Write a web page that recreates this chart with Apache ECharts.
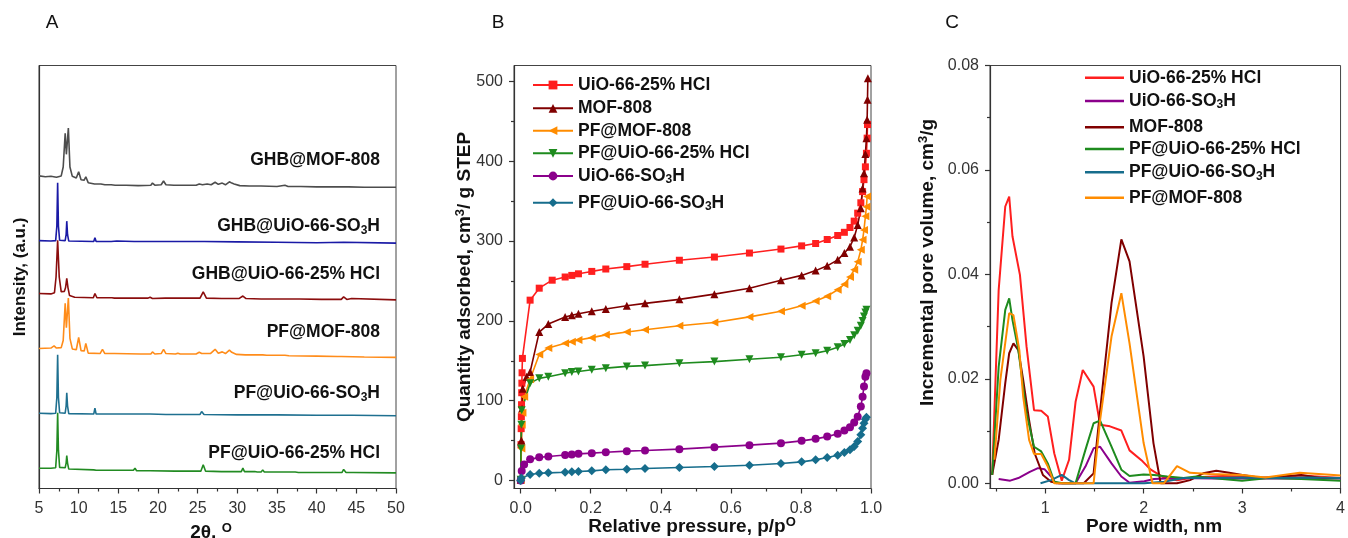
<!DOCTYPE html>
<html><head><meta charset="utf-8">
<script src="https://cdn.jsdelivr.net/npm/echarts@6/dist/echarts.min.js"></script>
<style>html,body{margin:0;padding:0;background:#fff}#c{width:1348px;height:538px}</style>
</head><body><div id="c"></div><script>
// ---------- Panel A: XRD patterns (2θ, offset intensity in arbitrary units) ----------
const A_GHB_MOF808 = [[5,73.9],[5.8,73.7],[6.5,73.8],[7.2,73.6],[7.8,73.9],[8.05,76],[8.3,84.0],[8.45,79],[8.7,85.2],[8.9,76],[9.2,73.8],[9.7,73.4],[10.0,74.9],[10.3,73.0],[10.7,72.9],[10.9,73.7],[11.2,72.3],[12,72.0],[12.8,72.0],[13.0,72.3],[13.3,71.8],[14.1,71.8],[14.3,72.0],[14.6,71.7],[16,71.7],[17.5,71.6],[19.1,71.7],[19.3,72.2],[19.6,71.7],[20.4,71.8],[20.7,72.7],[21.0,71.8],[22,71.7],[23.5,71.7],[24.8,71.7],[25.2,72.0],[25.6,71.8],[26.2,72.0],[26.7,71.8],[27.2,72.4],[27.6,71.9],[28.1,72.2],[28.5,71.8],[29.0,72.5],[29.3,72.2],[29.6,72.0],[30.3,71.6],[31.5,71.5],[33,71.5],[35,71.4],[36,71.7],[36.4,71.4],[38,71.4],[40,71.3],[42,71.3],[44,71.3],[46,71.2],[48,71.2],[50,71.2]];
const A_GHB_SO3H = [[5,58.6],[6.5,58.5],[7.1,58.6],[7.25,62],[7.35,72.3],[7.45,62],[7.6,58.7],[8.3,58.6],[8.42,60],[8.5,63.2],[8.6,60],[8.75,58.5],[11.9,58.4],[12.05,59.3],[12.2,58.4],[14.1,58.4],[14.2,58.8],[14.35,58.4],[14.8,58.5],[17,58.4],[19,58.4],[21,58.4],[25.3,58.4],[25.5,58.8],[25.8,58.4],[30,58.3],[35,58.2],[40,58.1],[43.4,58.2],[43.6,58.0],[50,58.0]];
const A_GHB_HCL = [[5,46.1],[6.5,46.0],[6.95,46.3],[7.15,50],[7.35,58.7],[7.55,50],[7.8,46.5],[8.2,46.6],[8.35,47.5],[8.5,49.7],[8.65,47.5],[8.85,45.6],[9.5,45.2],[11.85,45.1],[12.05,46.1],[12.3,45.1],[14.2,45.1],[14.35,45.4],[14.5,45.0],[16.9,45.0],[17.05,45.3],[17.3,45.0],[18.7,45.0],[19.0,45.2],[19.3,44.9],[20.9,45.0],[21.0,45.2],[21.2,45.0],[22.1,45.0],[22.3,45.4],[22.6,45.0],[25.3,45.0],[25.7,46.5],[26.1,45.0],[28.0,44.9],[28.2,45.1],[28.5,44.9],[29.7,44.9],[29.85,45.1],[30.2,44.9],[30.7,45.5],[31.1,44.9],[33.0,44.8],[33.2,45.2],[33.5,44.8],[35.4,44.8],[35.6,45.2],[35.9,44.8],[37.3,44.8],[37.5,45.0],[37.8,44.8],[40.6,44.7],[40.8,45.0],[41.0,44.7],[43.1,44.7],[43.4,45.3],[43.8,44.7],[44.4,44.9],[44.6,44.6],[50,44.6]];
const A_PF_MOF808 = [[5,33.1],[6.5,33.2],[6.9,33.7],[7.2,33.2],[7.8,33.3],[8.05,35],[8.3,43.8],[8.45,38],[8.7,45.0],[8.9,35.5],[9.2,33.0],[9.7,32.8],[10.0,35.7],[10.3,32.6],[10.7,32.5],[10.9,34.3],[11.2,32.0],[12.7,31.9],[13.0,32.9],[13.3,31.9],[14.0,31.9],[14.2,32.3],[14.5,31.9],[17.8,31.8],[18.0,32.0],[18.3,31.8],[19.1,31.8],[19.3,32.3],[19.6,31.8],[20.4,31.9],[20.7,32.9],[21.0,31.9],[22.2,31.8],[22.5,32.0],[22.8,31.8],[24.8,31.8],[25.2,32.2],[25.5,31.9],[26.0,31.9],[26.2,32.2],[26.6,31.9],[27.2,32.9],[27.6,32.0],[28.1,32.3],[28.5,31.9],[29.0,32.7],[29.3,32.2],[29.5,32.5],[29.9,31.7],[31,31.6],[33.2,31.6],[33.4,31.8],[33.7,31.5],[36,31.5],[36.2,31.7],[36.5,31.4],[40,31.3],[42.6,31.2],[42.8,31.5],[43.1,31.2],[46,31.1],[50,31.0]];
const A_PF_SO3H = [[5,17.8],[6.5,17.7],[7.1,17.8],[7.25,21.5],[7.35,31.6],[7.45,21.5],[7.6,17.9],[8.3,17.8],[8.42,19.5],[8.5,22.6],[8.6,19.5],[8.75,17.7],[11.9,17.6],[12.05,19.0],[12.2,17.6],[14.1,17.6],[14.2,18.0],[14.35,17.6],[14.7,17.6],[14.8,17.9],[14.95,17.6],[17,17.6],[19,17.6],[21,17.5],[25.3,17.5],[25.5,18.2],[25.8,17.5],[30,17.4],[35,17.4],[40,17.3],[43.3,17.3],[43.5,17.6],[43.7,17.3],[44.5,17.3],[50,17.2]];
const A_PF_HCL = [[5,4.8],[6.5,4.8],[7.1,4.9],[7.25,9],[7.35,17.9],[7.45,9],[7.6,5.0],[8.3,4.9],[8.42,6],[8.5,7.8],[8.6,6],[8.75,4.6],[11.9,4.4],[12.05,4.8],[12.2,4.3],[14.1,4.3],[14.2,4.5],[14.35,4.3],[14.7,4.3],[14.8,4.6],[14.95,4.3],[16.9,4.3],[17.1,4.8],[17.3,4.2],[18.6,4.2],[18.7,4.5],[18.85,4.2],[19.0,4.2],[19.1,4.5],[19.25,4.2],[22.1,4.1],[22.3,4.5],[22.5,4.1],[25.4,4.1],[25.7,5.6],[26.0,4.1],[28.0,4.0],[28.1,4.3],[28.3,4.0],[29.7,4.0],[29.8,4.3],[30.0,4.0],[30.5,4.0],[30.7,4.8],[30.9,4.0],[32.2,4.0],[32.3,4.2],[32.5,3.9],[33.0,3.9],[33.2,4.4],[33.4,3.9],[35.4,3.9],[35.6,4.3],[35.8,3.9],[37.3,3.9],[37.5,4.3],[37.7,3.8],[39.5,3.8],[39.6,4.0],[39.8,3.8],[40.6,3.8],[40.8,4.2],[41.0,3.8],[43.2,3.8],[43.4,4.5],[43.7,3.8],[44.3,3.8],[44.4,4.0],[44.6,3.8],[50,3.7]];
const A_NAMES = ['GHB@MOF-808','GHB@UiO-66-SO3H','GHB@UiO-66-25% HCl','PF@MOF-808','PF@UiO-66-SO3H','PF@UiO-66-25% HCl'];
const A_TICKS = [5,10,15,20,25,30,35,40,45,50];

// ---------- Panel B: N2 isotherms (p/p0, cm3/g STP) ----------
const B_HCL = [[0,1],[0.001,45],[0.0015,65],[0.002,80],[0.0025,95],[0.003,110],[0.0035,122],[0.004,135],[0.005,153],[0.027,226],[0.053,241],[0.09,251],[0.127,255],[0.146,257],[0.165,259],[0.203,262],[0.243,265],[0.303,268],[0.355,271],[0.453,276],[0.553,280],[0.653,285],[0.743,290],[0.802,294],[0.842,297],[0.875,302],[0.905,307],[0.924,311],[0.94,317],[0.952,325],[0.962,335],[0.971,348],[0.976,362],[0.98,377],[0.984,393],[0.987,410],[0.989,429],[0.99,446]];
const B_MOF808 = [[0,1],[0.002,50],[0.004,90],[0.006,115],[0.017,130],[0.027,136],[0.053,186],[0.079,196],[0.127,205],[0.146,207],[0.165,209],[0.203,212],[0.243,215],[0.303,219],[0.355,222],[0.453,227],[0.553,233.5],[0.653,241],[0.743,251],[0.802,257],[0.842,263],[0.875,269],[0.905,276.5],[0.924,285],[0.94,293],[0.952,304.5],[0.962,320],[0.971,341],[0.976,366],[0.98,385],[0.984,409],[0.987,429],[0.989,452],[0.99,477],[0.991,504]];
const B_PF_MOF808 = [[0,1],[0.002,40],[0.003,70],[0.005,85],[0.01,105],[0.027,127],[0.053,158],[0.079,166],[0.127,172],[0.146,174],[0.165,176],[0.203,179],[0.243,182.5],[0.303,186],[0.355,189],[0.453,194],[0.553,198],[0.653,205],[0.743,212],[0.802,219],[0.842,225],[0.875,231],[0.905,239],[0.924,246],[0.94,255],[0.952,264],[0.962,274],[0.971,289],[0.976,301.6],[0.98,314],[0.984,331],[0.987,343],[0.989,356]];
const B_PF_HCL = [[0,1],[0.001,40],[0.002,70],[0.003,88],[0.027,122],[0.053,128],[0.079,130],[0.127,134.5],[0.146,136],[0.165,136.6],[0.203,138.7],[0.243,140.8],[0.303,143],[0.355,144],[0.453,147],[0.553,149],[0.653,152],[0.743,154.5],[0.802,157.5],[0.842,159.6],[0.875,162.5],[0.905,167],[0.924,171],[0.94,176],[0.952,182],[0.962,187.5],[0.971,194],[0.976,200],[0.98,205.5],[0.984,210.5],[0.987,214]];
const B_SO3H = [[0,0],[0.003,12],[0.01,20],[0.027,26.5],[0.053,29],[0.079,30],[0.127,32],[0.146,32.6],[0.165,33.4],[0.203,34.3],[0.243,35.5],[0.303,36.8],[0.355,37.6],[0.453,39.3],[0.553,41.8],[0.653,44.3],[0.743,46.8],[0.802,49.7],[0.842,52.2],[0.875,55],[0.905,58.5],[0.924,62.7],[0.94,66.8],[0.952,72.7],[0.962,80],[0.971,92.7],[0.976,105],[0.98,117.8],[0.984,130],[0.987,134.5]];
const B_PF_SO3H = [[0,0],[0.002,3],[0.027,7.5],[0.053,9.2],[0.079,9.6],[0.127,10.4],[0.146,10.9],[0.165,11.3],[0.203,12.1],[0.243,13.4],[0.303,14.2],[0.355,15],[0.453,16.3],[0.553,17.5],[0.653,19.2],[0.743,21.3],[0.802,23.4],[0.842,25.9],[0.875,28.8],[0.905,31.7],[0.924,35],[0.94,38.4],[0.952,42.6],[0.962,48.9],[0.971,57.2],[0.976,65.6],[0.98,71.8],[0.984,76.9],[0.987,79.4]];
const B_NAMES = ['UiO-66-25% HCl','MOF-808','PF@MOF-808','PF@UiO-66-25% HCl','UiO-66-SO3H','PF@UiO-66-SO3H'];
const B_XTICKS = [0,0.2,0.4,0.6,0.8,1.0];
const B_XMINOR = [0.1,0.3,0.5,0.7,0.9];
const B_YTICKS = [0,100,200,300,400,500];
const B_YMINOR = [50,150,250,350,450];

// ---------- Panel C: pore size distribution (nm, cm3/g) ----------
const C_HCL = [[0.462,0.0016],[0.528,0.037],[0.595,0.053],[0.635,0.0549],[0.668,0.0473],[0.744,0.0399],[0.811,0.0262],[0.887,0.014],[0.96,0.0139],[1.027,0.0128],[1.093,0.0057],[1.169,0.0005],[1.243,0.0045],[1.309,0.0156],[1.382,0.0217],[1.492,0.0185],[1.558,0.0112],[1.658,0.0109],[1.774,0.0101],[1.857,0.0063],[1.99,0.0042],[2.073,0.0026],[2.206,0.0011],[2.339,0.0006],[2.472,0.001],[2.6,0.0012],[2.8,0.0014],[3.0,0.0013],[3.3,0.001],[3.6,0.0015],[4.0,0.001]];
const C_SO3H = [[0.528,0.0008],[0.645,0.0005],[0.728,0.001],[0.844,0.0022],[0.927,0.0029],[0.993,0.0027],[1.06,0.0013],[1.11,0],[1.309,0],[1.409,0.0032],[1.492,0.0067],[1.558,0.007],[1.674,0.0038],[1.774,0.0013],[1.857,0.0001],[2.007,0.0004],[2.106,0.0008],[2.339,0.001],[2.7,0.0009],[3.0,0.0009],[3.5,0.0009],[4.0,0.0009]];
const C_MOF808 = [[0.462,0.0016],[0.528,0.0083],[0.595,0.0192],[0.635,0.0249],[0.678,0.0268],[0.728,0.0255],[0.777,0.0198],[0.837,0.0121],[0.894,0.0057],[0.977,0.0016],[1.06,0.0003],[1.143,0],[1.392,0],[1.492,0.0019],[1.591,0.0198],[1.674,0.0345],[1.774,0.0467],[1.857,0.0425],[2.0,0.0243],[2.1,0.0077],[2.173,0],[2.339,0],[2.472,0.0006],[2.605,0.0019],[2.738,0.0024],[2.87,0.002],[3.003,0.0016],[3.2,0.001],[3.4,0.0013],[3.6,0.0016],[3.8,0.001],[4.0,0.001]];
const C_PF_HCL = [[0.462,0.0016],[0.528,0.0223],[0.595,0.0332],[0.635,0.0354],[0.668,0.0313],[0.728,0.0255],[0.811,0.0134],[0.887,0.007],[0.96,0.0061],[1.027,0.0038],[1.093,0.0003],[1.176,0],[1.309,0],[1.409,0.0064],[1.492,0.0115],[1.558,0.012],[1.674,0.007],[1.774,0.0026],[1.857,0.0014],[2.0,0.0017],[2.106,0.0016],[2.24,0.0013],[2.405,0.001],[2.538,0.0013],[2.8,0.0008],[3.0,0.0005],[3.27,0.001],[3.6,0.0008],[4.0,0.0005]];
const C_PF_SO3H = [[0.953,0],[1.06,0.0006],[1.169,0.0016],[1.243,0.0006],[1.309,0],[1.674,0],[2.007,0],[2.206,0.0003],[2.405,0.001],[2.671,0.001],[3.0,0.0011],[3.336,0.001],[3.668,0.0011],[4.0,0.001]];
const C_PF_MOF808 = [[0.485,0.0045],[0.545,0.0198],[0.635,0.0326],[0.678,0.0322],[0.738,0.0255],[0.777,0.0166],[0.837,0.0083],[0.887,0.0056],[0.96,0.0056],[1.027,0.0032],[1.093,0],[1.492,0],[1.558,0.0121],[1.674,0.0281],[1.774,0.0364],[1.857,0.0268],[2.0,0.0077],[2.09,0],[2.206,0],[2.339,0.0033],[2.472,0.002],[2.671,0.0018],[3.003,0.0016],[3.236,0.0011],[3.585,0.002],[3.93,0.0016],[4.0,0.0015]];
const C_NAMES = ['UiO-66-25% HCl','UiO-66-SO3H','MOF-808','PF@UiO-66-25% HCl','PF@UiO-66-SO3H','PF@MOF-808'];
const C_XTICKS = [1,2,3,4];
const C_XMINOR = [0.5,1.5,2.5,3.5];
const C_YTICKS = [0,0.02,0.04,0.06,0.08];
const C_YMINOR = [0.01,0.03,0.05,0.07];

// ---------- styling ----------
const FONT = '"Liberation Sans", Arial, Helvetica, sans-serif';
const AXC = '#333';
const col = {red:'#ff1f1f', dred:'#800000', orange:'#ff8c00', green:'#1e8b1e', purple:'#8b008b', teal:'#166d8c'};
const colA = ['#4d4d4d','#1a1aa6','#8b0d0d','#ff8c1a','#1f7090','#228b22'];
const GT = 65.5, GH = 423;

const chart = echarts.init(document.getElementById('c'), null, {renderer:'canvas'});

function mainX(grid, min, max, ticks, fmt){
  return {type:'value', gridIndex:grid, min, max, position:'bottom',
    axisLine:{show:true, onZero:false, lineStyle:{color:AXC, width:1.2}},
    axisTick:{show:true, inside:false, length:5, customValues:ticks, lineStyle:{color:AXC, width:1.2}},
    axisLabel:{show:true, customValues:ticks, margin:12, fontSize:16, color:'#333', fontFamily:FONT, formatter:fmt},
    splitLine:{show:false}};
}
function minorAx(grid, min, max, ticks, pos){
  return {type:'value', gridIndex:grid, min, max, position:pos,
    axisLine:{show:false, onZero:false}, axisLabel:{show:false}, splitLine:{show:false},
    axisTick:{show:true, inside:false, length:3, customValues:ticks, lineStyle:{color:AXC, width:1.2}}};
}
function mainY(grid, min, max, ticks, fmt){
  return {type:'value', gridIndex:grid, min, max, position:'left',
    axisLine:{show:true, onZero:false, lineStyle:{color:AXC, width:1.2}},
    axisTick:{show:true, inside:false, length:5, customValues:ticks, lineStyle:{color:AXC, width:1.2}},
    axisLabel:{show:true, customValues:ticks, margin:11, fontSize:16, color:'#333', fontFamily:FONT, formatter:fmt},
    splitLine:{show:false}};
}

const xAxis = [
  {type:'value', gridIndex:0, min:5, max:50, interval:5, position:'bottom',
   axisLine:{show:true, onZero:false, lineStyle:{color:AXC, width:1.2}},
   axisTick:{show:true, inside:false, length:5, lineStyle:{color:AXC, width:1.2}},
   minorTick:{show:true, splitNumber:2, length:3, lineStyle:{color:AXC, width:1.2}},
   axisLabel:{show:true, margin:12, fontSize:16, color:'#333', fontFamily:FONT, customValues:A_TICKS},
   splitLine:{show:false}},
  mainX(1, -0.019, 1.0, B_XTICKS, v=>v.toFixed(1)),
  minorAx(1, -0.019, 1.0, B_XMINOR, 'bottom'),
  mainX(2, 0.44, 4.0, C_XTICKS, v=>String(v)),
  minorAx(2, 0.44, 4.0, C_XMINOR, 'bottom')
];
const yAxis = [
  {type:'value', gridIndex:0, min:0, max:100, position:'left',
   axisLine:{show:true, onZero:false, lineStyle:{color:AXC, width:1.2}},
   axisTick:{show:false}, axisLabel:{show:false}, splitLine:{show:false}},
  mainY(1, -10, 520, B_YTICKS, v=>String(v)),
  minorAx(1, -10, 520, B_YMINOR, 'left'),
  mainY(2, -0.001, 0.08, C_YTICKS, v=>v.toFixed(2)),
  minorAx(2, -0.001, 0.08, C_YMINOR, 'left')
];

const series = [];
[A_GHB_MOF808, A_GHB_SO3H, A_GHB_HCL, A_PF_MOF808, A_PF_SO3H, A_PF_HCL].forEach((d,i)=>{
  series.push({name:'A '+A_NAMES[i], type:'line', xAxisIndex:0, yAxisIndex:0, data:d, showSymbol:false, symbol:'none',
    lineStyle:{color:colA[i], width:1.6}, itemStyle:{color:colA[i]}, z:3});
});
const Bspec = [
  [B_HCL, col.red, 'rect', 0, 7],
  [B_MOF808, col.dred, 'triangle', 0, 8],
  [B_PF_MOF808, col.orange, 'triangle', 90, 8],
  [B_PF_HCL, col.green, 'triangle', 180, 8],
  [B_SO3H, col.purple, 'circle', 0, 8],
  [B_PF_SO3H, col.teal, 'diamond', 0, 9]
];
Bspec.forEach((s,i)=>{
  series.push({name:B_NAMES[i], type:'line', xAxisIndex:1, yAxisIndex:1, data:s[0],
    symbol:s[2], symbolRotate:s[3], symbolSize:s[4], showAllSymbol:true,
    lineStyle:{color:s[1], width:1.6}, itemStyle:{color:s[1]}, z:3});
});
const Cspec = [[C_HCL,col.red],[C_SO3H,col.purple],[C_MOF808,col.dred],[C_PF_HCL,col.green],[C_PF_SO3H,col.teal],[C_PF_MOF808,col.orange]];
Cspec.forEach((s,i)=>{
  series.push({name:C_NAMES[i]+' C', type:'line', xAxisIndex:3, yAxisIndex:3, data:s[0], symbol:'none', showSymbol:false,
    lineStyle:{color:s[1], width:2}, itemStyle:{color:s[1]}, z:3});
});

const legFmt = n => n.replace(/ C$/,'').replace('SO3H','SO{s|3}H');
const legText = {fontSize:17.5, fontWeight:'bold', color:'#111', fontFamily:FONT, lineHeight:20,
  rich:{s:{fontSize:12, fontWeight:'bold', color:'#111', fontFamily:FONT, verticalAlign:'bottom'}}};
const legends = [];
const Bcy = [85, 108.3, 130.7, 153.3, 176, 202.7];
B_NAMES.forEach((n,i)=>legends.push({data:[n], orient:'vertical', left:532, top:Bcy[i]-10, padding:0,
  itemWidth:40, itemHeight:11, formatter:legFmt, textStyle:legText, selectedMode:false}));
const Ccy = [77.7, 101, 127.3, 149, 172.3, 197.7];
C_NAMES.forEach((n,i)=>legends.push({data:[n+' C'], orient:'vertical', left:1085, top:Ccy[i]-10, padding:0,
  icon:'rect', itemWidth:39, itemHeight:2.5, formatter:legFmt, textStyle:legText, selectedMode:false}));

// text annotations
function txt(x, y, text, size, weight, align, rot, rich){
  return {type:'text', x, y, rotation:rot||0, silent:true,
    style:{text, fontSize:size, fontWeight:weight, fontFamily:FONT, fill:'#111',
      textAlign:align||'center', textVerticalAlign:'middle', lineHeight:size+4, rich:rich||{}}};
}
const subRich = {s:{fontSize:12, fontWeight:'bold', fontFamily:FONT, fill:'#111', verticalAlign:'bottom'}};
const supRich = {p:{fontSize:13, fontWeight:'bold', fontFamily:FONT, fill:'#111', verticalAlign:'top'}};
const aLabelY = [160, 225.7, 274, 331.7, 393.3, 453.3];
const graphic = [
  txt(52, 23, 'A', 19, 'normal'),
  txt(498, 23, 'B', 19, 'normal'),
  txt(952, 23, 'C', 19, 'normal'),
  txt(20, 277, 'Intensity, (a.u.)', 17, 'bold', 'center', Math.PI/2),
  txt(211, 533, '2θ, {p|O}', 19, 'bold', 'center', 0, supRich),
  txt(465, 277, 'Quantity adsorbed, cm{p|3}/ g STEP', 19, 'bold', 'center', Math.PI/2, supRich),
  txt(692, 527, 'Relative pressure, p/p{p|O}', 19, 'bold', 'center', 0, supRich),
  txt(928, 262.5, 'Incremental pore volume, cm{p|3}/g', 19, 'bold', 'center', Math.PI/2, supRich),
  txt(1154, 527, 'Pore width, nm', 19, 'bold', 'center', 0)
];
A_NAMES.forEach((n,i)=>graphic.push(txt(380, aLabelY[i], n.replace('SO3H','SO{s|3}H'), 17.5, 'bold', 'right', 0, subRich)));

const gridBase = {top:GT, height:GH, width:357, show:true, borderColor:'#444', borderWidth:1, backgroundColor:'transparent', containLabel:false};
chart.setOption({
  animation:false,
  backgroundColor:'#fff',
  textStyle:{fontFamily:FONT},
  grid:[Object.assign({left:39}, gridBase), Object.assign({left:514}, gridBase), Object.assign({left:990}, gridBase)],
  xAxis, yAxis, series, legend:legends, graphic
});
</script></body></html>
